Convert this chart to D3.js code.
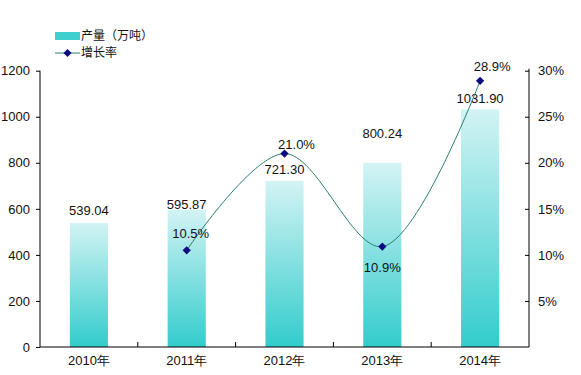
<!DOCTYPE html>
<html>
<head>
<meta charset="utf-8">
<script src="https://cdn.jsdelivr.net/npm/d3@7"></script>
<style>
    body { margin: 0; background: #fff; }
    svg { display: block; font-family: "Liberation Sans", Arial, "Noto Sans CJK SC", sans-serif; }
    .axis path, .axis line { stroke: #000; }
    .axis text { fill: #111; font-size: 13px; }
</style>
</head>
<body>
<div id="chart"></div>
<script>

// chart data
let years = ["2010年", "2011年", "2012年", "2013年", "2014年"];
let output = [539.04, 595.87, 721.30, 800.24, 1031.90];
let growth = [null, 0.105, 0.210, 0.109, 0.289];
let leftTicks = [0, 200, 400, 600, 800, 1000, 1200];
let rightTicks = [0.05, 0.10, 0.15, 0.20, 0.25, 0.30];

// label nudges (layout only, as placed in the original)
let barLabelGap = [12, 5, 11, 29, 11];
let rateLabelShift = [[0, 0], [4, -17], [12, -9], [0, 21], [12, -14]];

let width = 581, height = 375;
let plot = {left: 40, right: 529, top: 70.7, bottom: 347};

let svg = d3.select("#chart").append("svg")
    .attr("width", width)
    .attr("height", height);

// gradient for the bars
let defs = svg.append("defs");
let grad = defs.append("linearGradient")
    .attr("id", "barGrad")
    .attr("x1", 0).attr("y1", 0).attr("x2", 0).attr("y2", 1);
grad.append("stop").attr("offset", "0%").attr("stop-color", "#d3f3f4");
grad.append("stop").attr("offset", "100%").attr("stop-color", "#33cccc");

// scales
let x = d3.scaleBand()
    .domain(years)
    .range([plot.left, plot.right])
    .paddingInner(0.61)
    .paddingOuter(0.305);
let xOuter = d3.scaleBand()
    .domain(years)
    .range([plot.left, plot.right])
    .padding(0);
let yLeft = d3.scaleLinear()
    .domain([0, 1200])
    .range([plot.bottom, plot.top]);
let yRight = d3.scaleLinear()
    .domain([0, 0.30])
    .range([plot.bottom, plot.top]);

// bars
svg.selectAll("rect.bar")
    .data(output)
    .enter()
    .append("rect")
    .attr("class", "bar")
    .attr("x", (d, i) => x(years[i]))
    .attr("width", x.bandwidth())
    .attr("y", d => yLeft(d))
    .attr("height", d => plot.bottom - yLeft(d))
    .attr("fill", "url(#barGrad)");

// bar labels
svg.selectAll("text.bar-label")
    .data(output)
    .enter()
    .append("text")
    .attr("class", "bar-label")
    .attr("x", (d, i) => x(years[i]) + x.bandwidth() / 2)
    .attr("y", (d, i) => yLeft(d) - barLabelGap[i])
    .attr("dy", "0.35em")
    .attr("text-anchor", "middle")
    .attr("font-size", 13)
    .attr("fill", "#111")
    .text(d => d3.format(".2f")(d));

// axes
let leftAxis = d3.axisLeft(yLeft)
    .tickValues(leftTicks)
    .tickSize(4)
    .tickPadding(6)
    .tickFormat(d3.format("d"));
svg.append("g")
    .attr("class", "axis y-left")
    .attr("transform", "translate(" + plot.left + ",0)")
    .call(leftAxis)
    .call(g => g.select(".domain").attr("d", "M0," + plot.top + "V" + plot.bottom));

let rightAxis = d3.axisRight(yRight)
    .tickValues(rightTicks)
    .tickSizeInner(-4)
    .tickSizeOuter(0)
    .tickPadding(9)
    .tickFormat(d3.format(".0%"));
svg.append("g")
    .attr("class", "axis y-right")
    .attr("transform", "translate(" + plot.right + ",0)")
    .call(rightAxis)
    .call(g => g.select(".domain").attr("d", "M0," + (plot.top - 2) + "V" + plot.bottom));

let bottomAxis = d3.axisBottom(x)
    .tickSize(0)
    .tickPadding(9);
let xg = svg.append("g")
    .attr("class", "axis x-axis")
    .attr("transform", "translate(0," + plot.bottom + ")")
    .call(bottomAxis);
xg.select(".domain").attr("d", "M" + plot.left + ",0H" + plot.right);
xg.selectAll("text").attr("font-size", 12);

// category boundary ticks pointing up
xg.selectAll("line.sep")
    .data(years.slice(1))
    .enter()
    .append("line")
    .attr("class", "sep")
    .attr("x1", d => xOuter(d))
    .attr("x2", d => xOuter(d))
    .attr("y1", 0)
    .attr("y2", -5)
    .attr("stroke", "#000");

// growth line
let pts = growth.map((g, i) => ({year: years[i], g: g, i: i})).filter(d => d.g !== null);
let line = d3.line()
    .x(d => x(d.year) + x.bandwidth() / 2)
    .y(d => yRight(d.g))
    .curve(d3.curveCatmullRom.alpha(0.5));

svg.append("path")
    .datum(pts)
    .attr("d", line)
    .attr("fill", "none")
    .attr("stroke", "#2b7f70")
    .attr("stroke-width", 1);

// square turned 45 degrees, like the original markers
let diamond = d3.symbol().type(d3.symbolSquare).size(34);
svg.selectAll("path.marker")
    .data(pts)
    .enter()
    .append("path")
    .attr("class", "marker")
    .attr("d", diamond)
    .attr("transform", d => "translate(" + (x(d.year) + x.bandwidth() / 2) + "," + yRight(d.g) + ") rotate(45)")
    .attr("fill", "#0a0a80");

svg.selectAll("text.rate-label")
    .data(pts)
    .enter()
    .append("text")
    .attr("class", "rate-label")
    .attr("x", d => x(d.year) + x.bandwidth() / 2 + rateLabelShift[d.i][0])
    .attr("y", d => yRight(d.g) + rateLabelShift[d.i][1])
    .attr("dy", "0.35em")
    .attr("text-anchor", "middle")
    .attr("font-size", 13)
    .attr("fill", "#111")
    .text(d => d3.format(".1%")(d.g));

// legend
let legend = svg.append("g").attr("class", "legend");
legend.append("rect")
    .attr("x", 55).attr("y", 32)
    .attr("width", 25).attr("height", 8)
    .attr("fill", "#3fcfcf");
legend.append("text")
    .attr("x", 81).attr("y", 36)
    .attr("dy", "0.35em")
    .attr("font-size", 12)
    .attr("font-family", "Noto Sans CJK SC, sans-serif")
    .attr("fill", "#111")
    .text("产量（万吨）");
legend.append("line")
    .attr("x1", 55).attr("x2", 80)
    .attr("y1", 53).attr("y2", 53)
    .attr("stroke", "#2b7f70");
legend.append("path")
    .attr("d", diamond)
    .attr("transform", "translate(67.5,53) rotate(45)")
    .attr("fill", "#0a0a80");
legend.append("text")
    .attr("x", 81).attr("y", 53)
    .attr("dy", "0.35em")
    .attr("font-size", 12)
    .attr("font-family", "Noto Sans CJK SC, sans-serif")
    .attr("fill", "#111")
    .text("增长率");

</script>
</body>
</html>
